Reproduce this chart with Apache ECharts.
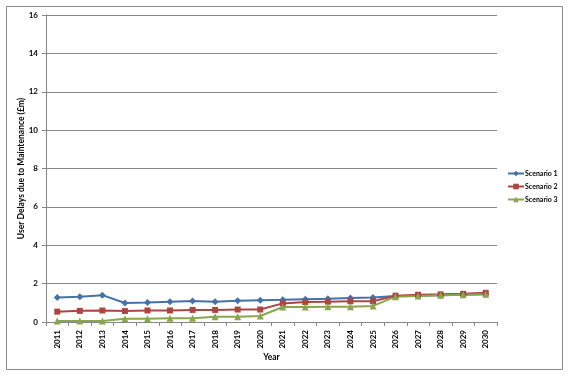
<!DOCTYPE html>
<html><head><meta charset="utf-8">
<script src="https://cdn.jsdelivr.net/npm/echarts@6/dist/echarts.min.js"></script>
<style>html,body{margin:0;padding:0;background:#fff}#c{width:573px;height:375px}</style>
</head><body><div id="c"></div>
<script>
const years = ['2011','2012','2013','2014','2015','2016','2017','2018','2019','2020','2021','2022','2023','2024','2025','2026','2027','2028','2029','2030'];
const scenario1 = [1.28,1.31,1.40,0.99,1.02,1.06,1.09,1.06,1.11,1.14,1.16,1.19,1.21,1.25,1.28,1.35,1.37,1.40,1.42,1.44];
const scenario2 = [0.54,0.58,0.60,0.57,0.60,0.60,0.63,0.63,0.65,0.65,0.97,1.04,1.06,1.08,1.08,1.37,1.42,1.44,1.47,1.52];
const scenario3 = [0.05,0.05,0.05,0.17,0.17,0.19,0.19,0.27,0.27,0.31,0.78,0.78,0.80,0.80,0.84,1.32,1.35,1.39,1.42,1.45];
const seriesNames = ['Scenario 1','Scenario 2','Scenario 3'];
const yTitle = 'User Delays due to Maintenance (£m)';
const xTitle = 'Year';

const FONT = 'Lato';
const chart = echarts.init(document.getElementById('c'), null, {renderer:'canvas'});
function mk(name, data, color, symbol, size){
  return {name, type:'line', data, symbol, symbolSize:size, showSymbol:true,
    lineStyle:{color, width:2}, itemStyle:{color}, animation:false};
}
chart.setOption({
  animation:false,
  backgroundColor:'#fff',
  textStyle:{fontFamily:FONT},
  graphic:[{type:'rect', shape:{x:6.5,y:6.5,width:556,height:363}, style:{fill:'none', stroke:'#878787', lineWidth:1}, silent:true}],
  grid:{left:46, right:76, top:15, bottom:53, containLabel:false},
  legend:{orient:'vertical', left:507, top:170, padding:0, itemGap:6, itemWidth:16, itemHeight:7,
    textStyle:{fontFamily:FONT, fontSize:7, fontWeight:'bold', color:'#000', padding:[0,0,0,-4]},
    data:seriesNames},
  xAxis:{type:'category', data:years, boundaryGap:true,
    name:xTitle, nameLocation:'middle', nameGap:31, nameMoveOverlap:false,
    nameTextStyle:{fontFamily:FONT, fontSize:8.5, fontWeight:'bold', color:'#000'},
    axisLine:{lineStyle:{color:'#868686', width:1}},
    axisTick:{show:true, length:4, alignWithLabel:false, lineStyle:{color:'#868686'}},
    axisLabel:{rotate:90, fontFamily:FONT, fontSize:8, fontWeight:'bold', color:'#000', margin:8, interval:0}},
  yAxis:{type:'value', min:0, max:16, interval:2,
    name:yTitle, nameLocation:'middle', nameGap:20, nameMoveOverlap:false,
    nameTextStyle:{fontFamily:FONT, fontSize:8.5, fontWeight:'bold', color:'#000'},
    axisLine:{show:true, lineStyle:{color:'#868686'}},
    axisTick:{show:true, length:4, lineStyle:{color:'#868686'}},
    splitLine:{lineStyle:{color:'#868686', width:1}},
    axisLabel:{fontFamily:FONT, fontSize:8, fontWeight:'bold', color:'#000', margin:8}},
  series:[
    mk(seriesNames[0], scenario1, '#4572A7', 'diamond', 7),
    mk(seriesNames[1], scenario2, '#AA4643', 'rect', 6),
    mk(seriesNames[2], scenario3, '#89A54E', 'triangle', 7)
  ]
});
</script></body></html>
